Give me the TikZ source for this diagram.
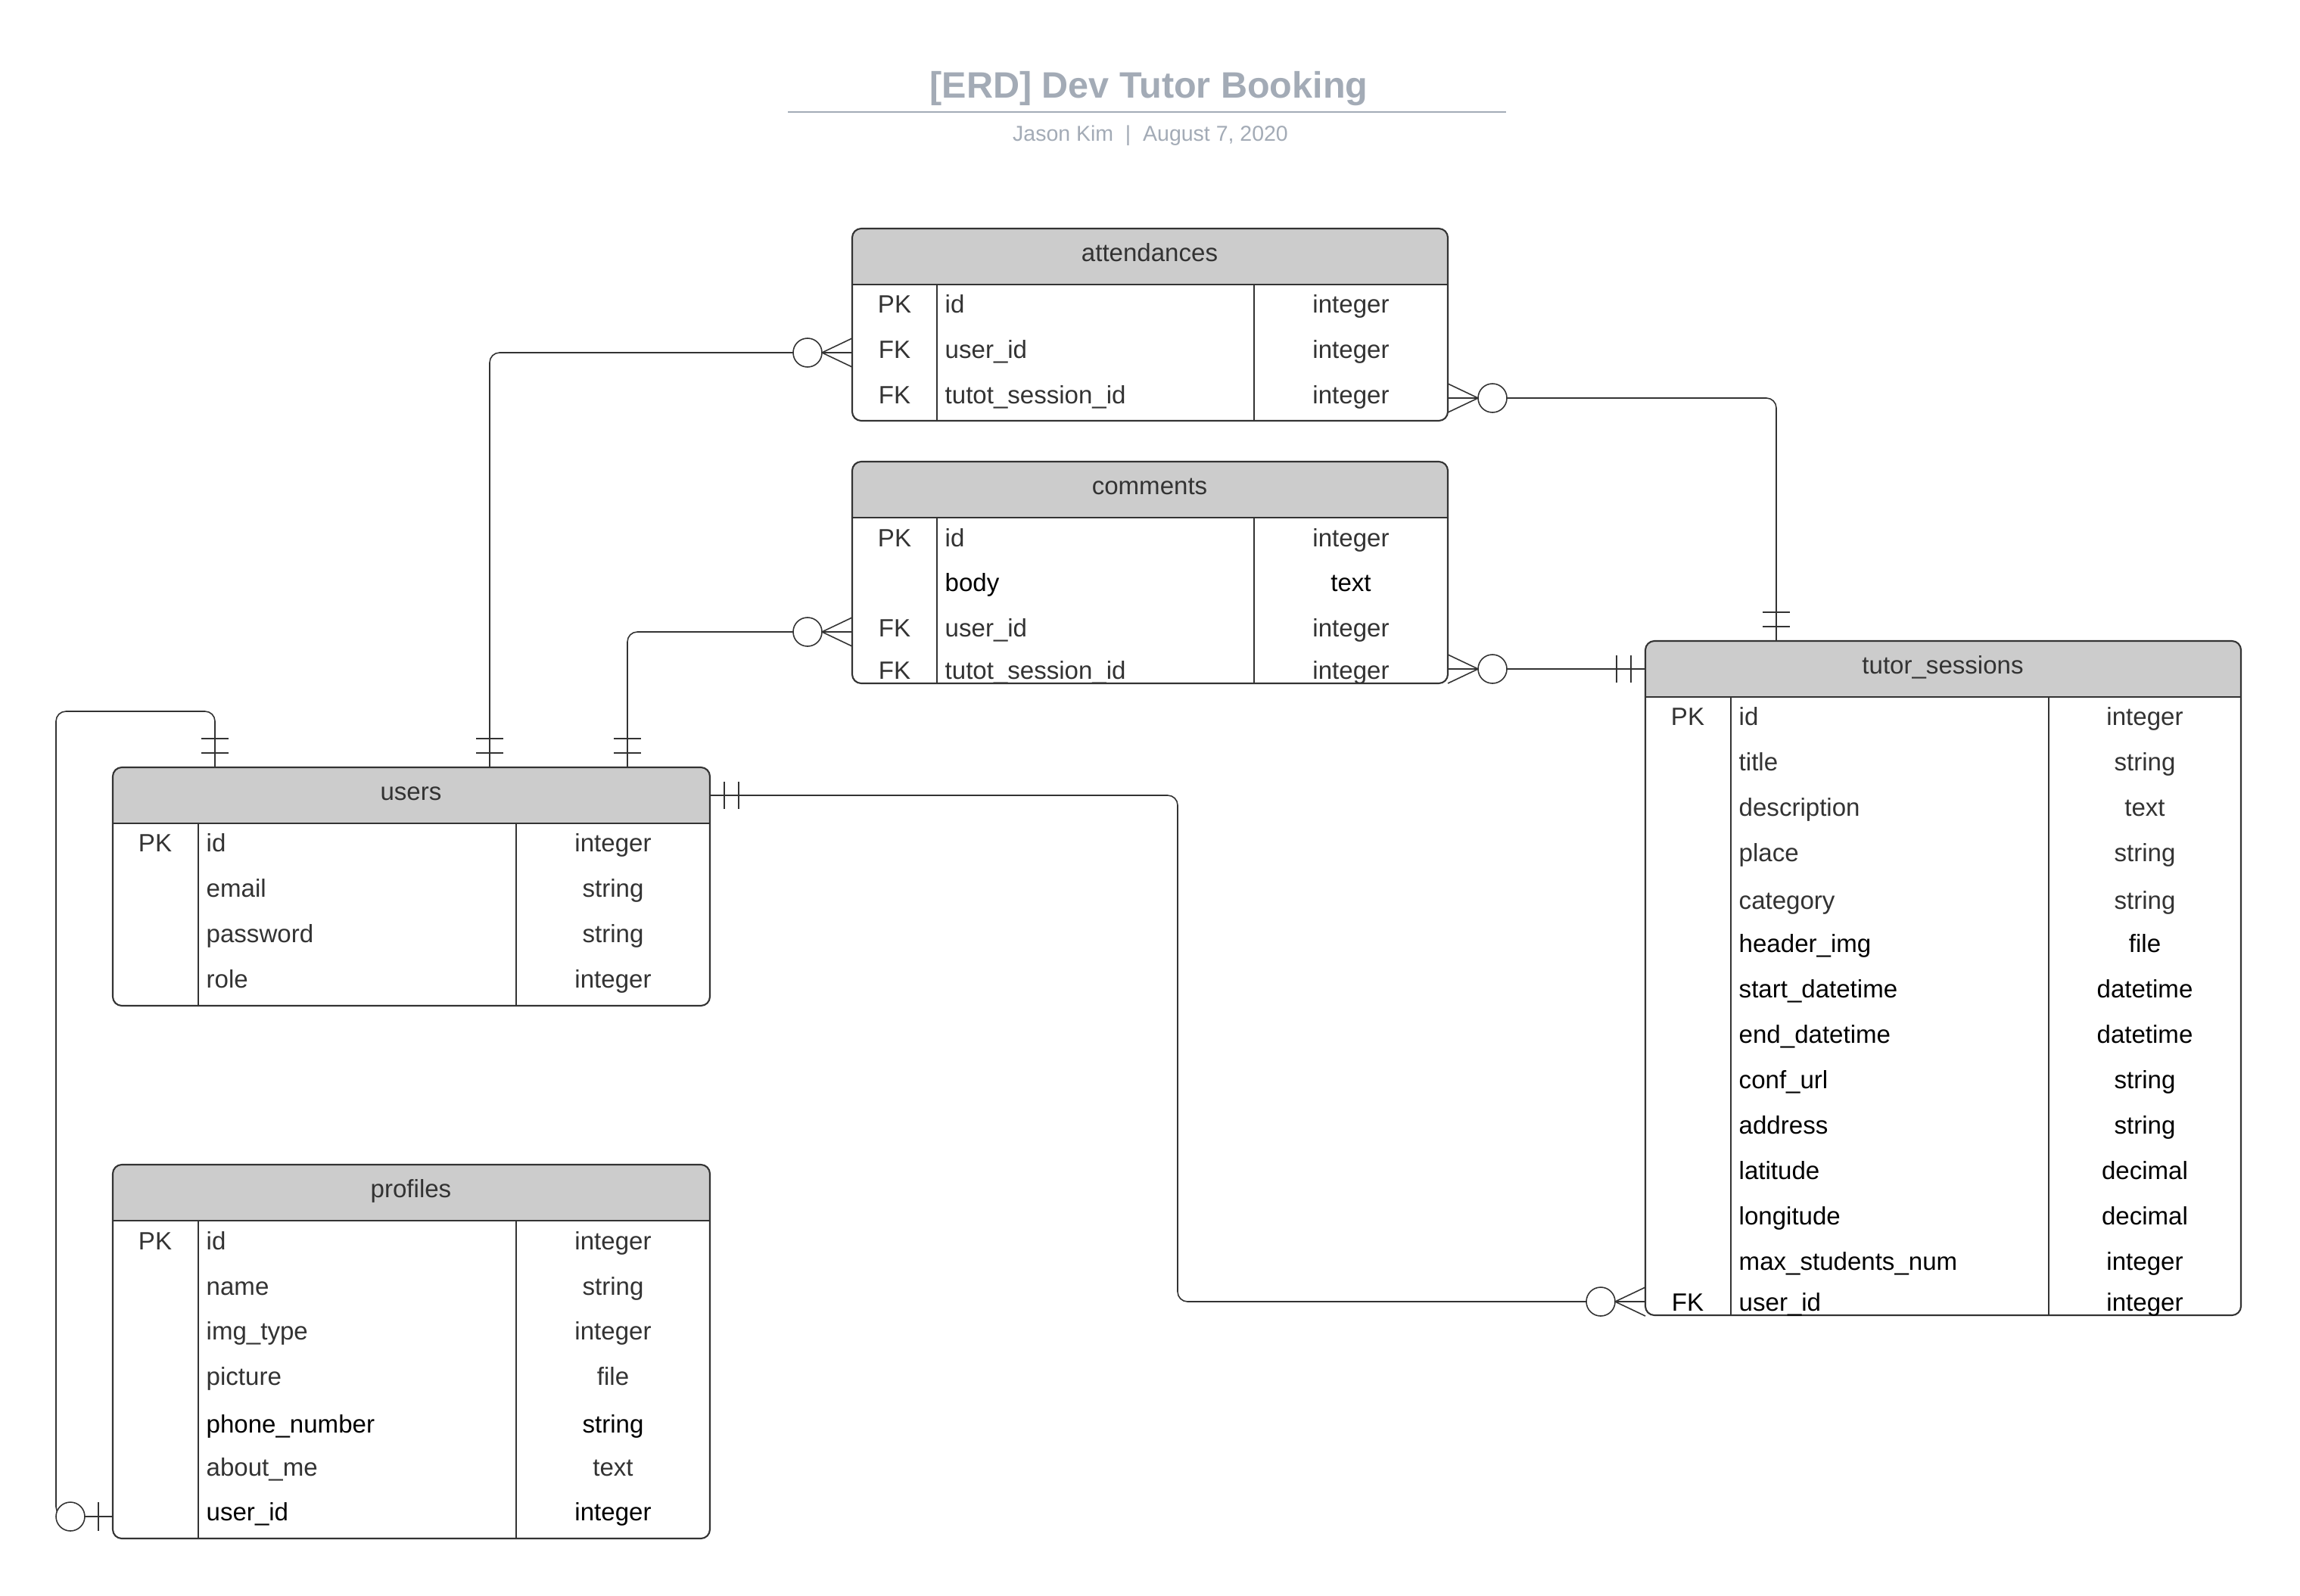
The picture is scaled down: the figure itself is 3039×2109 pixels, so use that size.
\documentclass[tikz,border=0pt]{standalone}
\usepackage{fontspec}
\setmainfont{Liberation Sans}
\usetikzlibrary{calc,fit}

\definecolor{ink}{RGB}{51,51,51}
\definecolor{headgray}{RGB}{204,204,204}
\definecolor{titlegray}{RGB}{163,171,182}

\newcommand{\erdfont}{\fontsize{9.4pt}{11pt}\selectfont}

\tikzset{
	tbl/.style={draw=ink, line width=0.6pt, rounded corners=3.4pt, inner sep=0pt, outer sep=0pt},
	rowline/.style={draw=ink, line width=0.4pt},
	rel/.style={draw=ink, line width=0.45pt},
	link/.style={rel, rounded corners=3.7pt},
	cell/.style={font=\erdfont, text=ink, anchor=base, inner sep=0pt},
	namecell/.style={cell, anchor=base west},
	onebars/.pic={\draw[rel] (19,-18) -- (19,18) (38,-18) -- (38,18);},
	zmany/.pic={\draw[rel] (0,-19) -- (40,0) -- (0,19) (0,0) -- (40,0);
		\draw[rel, fill=white] (59,0) circle[radius=19];},
	zone/.pic={\draw[rel] (19,-19) -- (19,19);
		\draw[rel, fill=white] (56,0) circle[radius=19];}
}

\begin{document}
\begin{tikzpicture}[x=0.01cm, y=-0.01cm]
	\fill[white] (0,0) rectangle (3039,2109);
	\useasboundingbox (0,0) rectangle (3039,2109);

	\node[cell, font={\fontsize{13.8pt}{17pt}\selectfont\bfseries}, text=titlegray] (title) at (1518,130) {[ERD] Dev Tutor Booking};
	\draw[titlegray, line width=0.75pt] (1041,148) -- (1990,148);
	\node[cell, font={\fontsize{8.1pt}{10pt}\selectfont}, text=titlegray] (byline) at (1520,186) {Jason Kim~~|~~August 7, 2020};

	% attendances
	\fill[headgray, rounded corners=3.4pt] (1126,302) rectangle (1913,376);
	\fill[headgray] (1126,340) rectangle (1913,376);
	\node[tbl, fit={(1126,302) (1913,556)}] (attendances) {};
	\draw[tbl] (1126,376) -- (1913,376);
	\draw[rowline] (1238,376) -- (1238,556) (1657,376) -- (1657,556);
	\node[cell] (attendances-h) at (1519,345) {attendances};
	\foreach \yy/\ky/\fd/\tp/\cl [count=\rw] in {413/PK/id/integer/ink, 473/FK/user\_id/integer/ink, 533/FK/tutot\_session\_id/integer/ink}{
		\node[cell, text=\cl] (attendances-k\rw) at (1182,\yy) {\ky};
		\node[namecell, text=\cl] (attendances-n\rw) at (1248,\yy) {\fd};
		\node[cell, text=\cl] (attendances-t\rw) at (1785,\yy) {\tp};
	}

	% comments
	\fill[headgray, rounded corners=3.4pt] (1126,610) rectangle (1913,684);
	\fill[headgray] (1126,650) rectangle (1913,684);
	\node[tbl, fit={(1126,610) (1913,903)}] (comments) {};
	\draw[tbl] (1126,684) -- (1913,684);
	\draw[rowline] (1238,684) -- (1238,903) (1657,684) -- (1657,903);
	\node[cell] (comments-h) at (1519,653) {comments};
	\foreach \yy/\ky/\fd/\tp/\cl [count=\rw] in {722/PK/id/integer/ink, 781//body/text/black, 841/FK/user\_id/integer/ink, 897/FK/tutot\_session\_id/integer/ink}{
		\node[cell, text=\cl] (comments-k\rw) at (1182,\yy) {\ky};
		\node[namecell, text=\cl] (comments-n\rw) at (1248,\yy) {\fd};
		\node[cell, text=\cl] (comments-t\rw) at (1785,\yy) {\tp};
	}

	% users
	\fill[headgray, rounded corners=3.4pt] (149,1014) rectangle (938,1088);
	\fill[headgray] (149,1050) rectangle (938,1088);
	\node[tbl, fit={(149,1014) (938,1329)}] (users) {};
	\draw[tbl] (149,1088) -- (938,1088);
	\draw[rowline] (262,1088) -- (262,1329) (682,1088) -- (682,1329);
	\node[cell] (users-h) at (543,1057) {users};
	\foreach \yy/\ky/\fd/\tp/\cl [count=\rw] in {1125/PK/id/integer/ink, 1185//email/string/ink, 1245//password/string/ink, 1305//role/integer/ink}{
		\node[cell, text=\cl] (users-k\rw) at (205,\yy) {\ky};
		\node[namecell, text=\cl] (users-n\rw) at (272,\yy) {\fd};
		\node[cell, text=\cl] (users-t\rw) at (810,\yy) {\tp};
	}

	% profiles
	\fill[headgray, rounded corners=3.4pt] (149,1539) rectangle (938,1613);
	\fill[headgray] (149,1575) rectangle (938,1613);
	\node[tbl, fit={(149,1539) (938,2033)}] (profiles) {};
	\draw[tbl] (149,1613) -- (938,1613);
	\draw[rowline] (262,1613) -- (262,2033) (682,1613) -- (682,2033);
	\node[cell] (profiles-h) at (543,1582) {profiles};
	\foreach \yy/\ky/\fd/\tp/\cl [count=\rw] in {1651/PK/id/integer/ink, 1711//name/string/ink, 1770//img\_type/integer/ink, 1830//picture/file/ink, 1893//phone\_number/string/black, 1950//about\_me/text/ink, 2009//user\_id/integer/black}{
		\node[cell, text=\cl] (profiles-k\rw) at (205,\yy) {\ky};
		\node[namecell, text=\cl] (profiles-n\rw) at (272,\yy) {\fd};
		\node[cell, text=\cl] (profiles-t\rw) at (810,\yy) {\tp};
	}

	% tutor_sessions
	\fill[headgray, rounded corners=3.4pt] (2174,847) rectangle (2961,921);
	\fill[headgray] (2174,885) rectangle (2961,921);
	\node[tbl, fit={(2174,847) (2961,1738)}] (tutor-sessions) {};
	\draw[tbl] (2174,921) -- (2961,921);
	\draw[rowline] (2287,921) -- (2287,1738) (2707,921) -- (2707,1738);
	\node[cell] (tutor-sessions-h) at (2567,890) {tutor\_sessions};
	\foreach \yy/\ky/\fd/\tp/\cl [count=\rw] in {958/PK/id/integer/ink, 1018//title/string/ink, 1078//description/text/ink, 1138//place/string/ink, 1201//category/string/ink, 1258//header\_img/file/black, 1318//start\_datetime/datetime/black, 1378//end\_datetime/datetime/black, 1438//conf\_url/string/black, 1498//address/string/black, 1558//latitude/decimal/black, 1618//longitude/decimal/black, 1678//max\_students\_num/integer/black, 1732/FK/user\_id/integer/black}{
		\node[cell, text=\cl] (tutor-sessions-k\rw) at (2230,\yy) {\ky};
		\node[namecell, text=\cl] (tutor-sessions-n\rw) at (2297,\yy) {\fd};
		\node[cell, text=\cl] (tutor-sessions-t\rw) at (2834,\yy) {\tp};
	}

	% relations
	\draw[link] ($(users.north west)+(498,0)$) |- ($(attendances.north west)+(0,164)$);
	\draw[link] ($(attendances.north east)+(0,224)$) -| ($(tutor-sessions.north west)+(173,0)$);
	\draw[link] ($(users.north west)+(680,0)$) |- ($(comments.north west)+(0,225)$);
	\draw[link] ($(comments.north east)+(0,274)$) -- ($(tutor-sessions.north west)+(0,37)$);
	\draw[link] ($(users.north east)+(0,37)$) -| (1556,1720) -- ($(tutor-sessions.north west)+(0,873)$);
	\draw[link] ($(users.north west)+(135,0)$) |- (74,940) |- ($(profiles.north west)+(0,465)$);

	\pic[rotate=90] at ($(users.north west)+(498,0)$) {onebars};
	\pic[rotate=180] at ($(attendances.north west)+(0,164)$) {zmany};
	\pic at ($(attendances.north east)+(0,224)$) {zmany};
	\pic[rotate=90] at ($(tutor-sessions.north west)+(173,0)$) {onebars};
	\pic[rotate=90] at ($(users.north west)+(680,0)$) {onebars};
	\pic[rotate=180] at ($(comments.north west)+(0,225)$) {zmany};
	\pic at ($(comments.north east)+(0,274)$) {zmany};
	\pic[rotate=180] at ($(tutor-sessions.north west)+(0,37)$) {onebars};
	\pic at ($(users.north east)+(0,37)$) {onebars};
	\pic[rotate=180] at ($(tutor-sessions.north west)+(0,873)$) {zmany};
	\pic[rotate=90] at ($(users.north west)+(135,0)$) {onebars};
	\pic[rotate=180] at ($(profiles.north west)+(0,465)$) {zone};
\end{tikzpicture}
\end{document}
